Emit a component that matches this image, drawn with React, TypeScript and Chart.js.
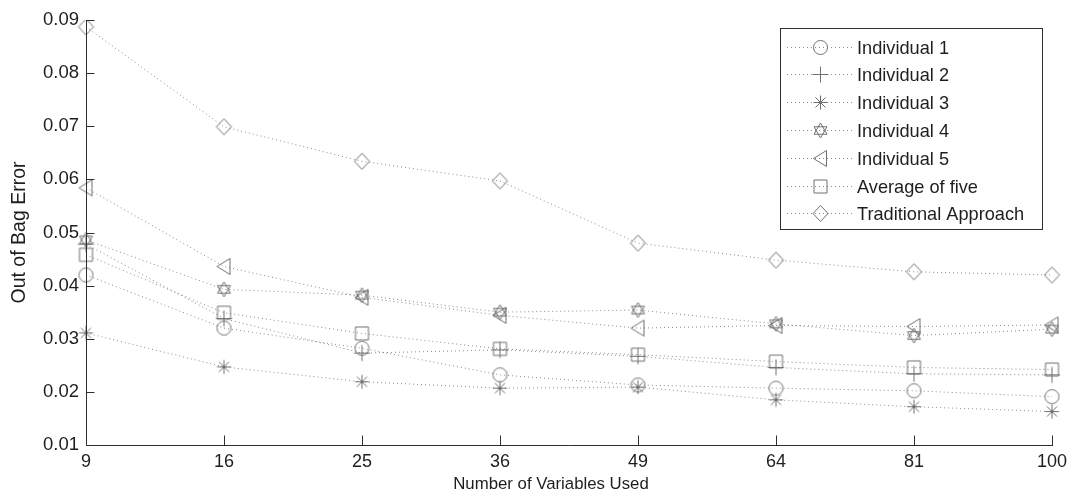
import React, { useEffect, useRef } from "react";
import { Chart, registerables } from "chart.js";

Chart.register(...registerables);

const variablesUsed = ["9", "16", "25", "36", "49", "64", "81", "100"];

const individual1 = [0.042, 0.032, 0.0282, 0.0232, 0.0213, 0.0207, 0.0202, 0.0191];
const individual2 = [0.0478, 0.0338, 0.0273, 0.0279, 0.0267, 0.0246, 0.0234, 0.0232];
const individual3 = [0.0311, 0.0247, 0.0219, 0.0207, 0.0209, 0.0185, 0.0172, 0.0163];
const individual4 = [0.0486, 0.0393, 0.0382, 0.035, 0.0354, 0.0328, 0.0306, 0.0318];
const individual5 = [0.0584, 0.0436, 0.0378, 0.0344, 0.032, 0.0325, 0.0323, 0.0326];
const averageOfFive = [0.0458, 0.0349, 0.031, 0.0281, 0.027, 0.0257, 0.0246, 0.0242];
const traditional = [0.0887, 0.0699, 0.0634, 0.0597, 0.048, 0.0448, 0.0426, 0.042];

const seriesLabels = [
  "Individual 1",
  "Individual 2",
  "Individual 3",
  "Individual 4",
  "Individual 5",
  "Average of five",
  "Traditional Approach",
];
const seriesMarkers = ["circle", "plus", "asterisk", "hexagram", "triangleLeft", "square", "diamond"];

const yTicks = { min: 0.01, max: 0.09, step: 0.01 };
const xAxisTitle = "Number of Variables Used";
const yAxisTitle = "Out of Bag Error";

const MARK_COLOR = "#707070";
const LINE_COLOR = "#8a8a8a";
const AXIS_COLOR = "#2e2e2e";
const TEXT_COLOR = "#1e1e1e";
const FONT = "'Liberation Sans', Arial, sans-serif";

function makeMarker(kind: string): HTMLCanvasElement {
  const c = document.createElement("canvas");
  c.width = 21;
  c.height = 21;
  const ctx = c.getContext("2d")!;
  const cx = 10.5;
  const cy = 10.5;
  ctx.strokeStyle = MARK_COLOR;
  ctx.lineWidth = 1;
  ctx.beginPath();
  if (kind === "circle") {
    ctx.arc(cx, cy, 7, 0, Math.PI * 2);
  } else if (kind === "plus") {
    ctx.moveTo(cx - 8, cy);
    ctx.lineTo(cx + 8, cy);
    ctx.moveTo(cx, cy - 8);
    ctx.lineTo(cx, cy + 8);
  } else if (kind === "asterisk") {
    const r = 7;
    ctx.moveTo(cx - r, cy);
    ctx.lineTo(cx + r, cy);
    ctx.moveTo(cx, cy - r);
    ctx.lineTo(cx, cy + r);
    const d = r * 0.72;
    ctx.moveTo(cx - d, cy - d);
    ctx.lineTo(cx + d, cy + d);
    ctx.moveTo(cx - d, cy + d);
    ctx.lineTo(cx + d, cy - d);
  } else if (kind === "hexagram") {
    const r = 7.5;
    for (let t = 0; t < 2; t++) {
      const off = t === 0 ? -Math.PI / 2 : Math.PI / 2;
      for (let i = 0; i < 3; i++) {
        const a = off + (i * 2 * Math.PI) / 3;
        const px = cx + r * Math.cos(a);
        const py = cy + r * Math.sin(a);
        if (i === 0) ctx.moveTo(px, py);
        else ctx.lineTo(px, py);
      }
      ctx.closePath();
    }
  } else if (kind === "triangleLeft") {
    ctx.moveTo(cx - 7, cy);
    ctx.lineTo(cx + 6, cy - 8);
    ctx.lineTo(cx + 6, cy + 8);
    ctx.closePath();
  } else if (kind === "square") {
    ctx.rect(cx - 6.5, cy - 6.5, 13, 13);
  } else if (kind === "diamond") {
    ctx.moveTo(cx, cy - 8);
    ctx.lineTo(cx + 7.5, cy);
    ctx.lineTo(cx, cy + 8);
    ctx.lineTo(cx - 7.5, cy);
    ctx.closePath();
  }
  ctx.stroke();
  return c;
}

const axesPlugin = {
  id: "matlabAxes",
  afterDraw(chart: any) {
    const { ctx, chartArea, scales } = chart;
    const x = scales.x;
    const y = scales.y;
    ctx.save();
    ctx.strokeStyle = AXIS_COLOR;
    ctx.lineWidth = 1;
    ctx.beginPath();
    const left = Math.round(chartArea.left) + 0.5;
    const bottom = Math.round(chartArea.bottom) + 0.5;
    ctx.moveTo(left, Math.round(chartArea.top));
    ctx.lineTo(left, bottom);
    ctx.lineTo(Math.round(chartArea.right) + 1, bottom);
    for (let i = 0; i < x.ticks.length; i++) {
      const px = Math.round(x.getPixelForTick(i)) + 0.5;
      ctx.moveTo(px, bottom);
      ctx.lineTo(px, bottom - 10);
    }
    for (let i = 0; i < y.ticks.length; i++) {
      const py = Math.round(y.getPixelForTick(i)) + 0.5;
      ctx.moveTo(left, py);
      ctx.lineTo(left + 8, py);
    }
    ctx.stroke();
    // x axis title (slightly left of centre, as in the original figure)
    ctx.fillStyle = TEXT_COLOR;
    ctx.font = `16.8px ${FONT}`;
    ctx.textAlign = "center";
    ctx.textBaseline = "middle";
    ctx.fillText(xAxisTitle, (chartArea.left + chartArea.right) / 2 - 18, chartArea.bottom + 39);
    ctx.restore();
  },
};

const legendPlugin = {
  id: "matlabLegend",
  afterDraw(chart: any) {
    const { ctx, chartArea } = chart;
    const boxRight = chartArea.right - 10;
    const boxW = 262;
    const boxLeft = boxRight - boxW;
    const boxTop = chartArea.top + 8;
    const rowH = 27.8;
    const firstRow = boxTop + 18.5;
    const n = chart.data.datasets.length;
    const boxH = 201;
    ctx.save();
    ctx.fillStyle = "#ffffff";
    ctx.fillRect(boxLeft, boxTop, boxW, boxH);
    ctx.strokeStyle = AXIS_COLOR;
    ctx.lineWidth = 1;
    ctx.strokeRect(Math.round(boxLeft) + 0.5, Math.round(boxTop) + 0.5, boxW, boxH);
    ctx.font = `18.2px ${FONT}`;
    ctx.textBaseline = "middle";
    ctx.textAlign = "left";
    for (let i = 0; i < n; i++) {
      const ds = chart.data.datasets[i];
      const yy = Math.round(firstRow + i * rowH) + 0.5;
      ctx.strokeStyle = LINE_COLOR;
      ctx.setLineDash([1, 3]);
      ctx.beginPath();
      ctx.moveTo(boxLeft + 7, yy);
      ctx.lineTo(boxLeft + 74, yy);
      ctx.stroke();
      ctx.setLineDash([]);
      const img = ds.pointStyle as HTMLCanvasElement;
      const mx = Math.round(boxLeft + 40);
      ctx.drawImage(img, mx - 10, Math.round(yy - 0.5) - 10);
      ctx.fillStyle = TEXT_COLOR;
      ctx.fillText(ds.label, boxLeft + 77, yy + 1);
    }
    ctx.restore();
  },
};

export default function App() {
  const ref = useRef<HTMLCanvasElement | null>(null);

  useEffect(() => {
    if (!ref.current) return;
    Chart.defaults.font.family = FONT;
    Chart.defaults.color = TEXT_COLOR;
    const seriesValues = [individual1, individual2, individual3, individual4, individual5, averageOfFive, traditional];
    const datasets = seriesValues.map((vals, i) => {
      const marker = makeMarker(seriesMarkers[i]);
      return {
        label: seriesLabels[i],
        data: vals,
        borderColor: LINE_COLOR,
        borderWidth: 1,
        borderDash: [1, 3],
        pointStyle: marker,
        pointRadius: 8,
        fill: false,
        tension: 0,
      };
    });
    const chart = new Chart(ref.current, {
      type: "line",
      data: { labels: variablesUsed, datasets },
      options: {
        animation: false,
        responsive: true,
        maintainAspectRatio: false,
        events: [],
        layout: { padding: { top: 20, right: 20, left: 0, bottom: 0 } },
        plugins: {
          legend: { display: false },
          tooltip: { enabled: false },
        },
        scales: {
          x: {
            type: "category",
            offset: false,
            grid: { display: false, drawTicks: false },
            border: { display: false },
            ticks: { padding: 6, font: { size: 18 }, color: TEXT_COLOR, maxRotation: 0, autoSkip: false },
            title: { display: false },
            afterFit: (s: any) => {
              s.height = 54;
            },
          },
          y: {
            min: yTicks.min,
            max: yTicks.max,
            grid: { display: false, drawTicks: false },
            border: { display: false },
            ticks: {
              stepSize: yTicks.step,
              padding: 7,
              font: { size: 18.5 },
              color: TEXT_COLOR,
              callback: (v: any) => Number(v).toFixed(2),
            },
            title: {
              display: true,
              text: yAxisTitle,
              font: { size: 19.5 },
              color: TEXT_COLOR,
              padding: { top: 8, bottom: 0 },
            },
            afterFit: (s: any) => {
              s.width = 86;
            },
          },
        },
      },
      plugins: [axesPlugin, legendPlugin],
    } as any);
    return () => chart.destroy();
  }, []);

  return (
    <div style={{ position: "fixed", left: 0, top: 0, width: 1073, height: 499, background: "#fff" }}>
      <canvas ref={ref} />
    </div>
  );
}
